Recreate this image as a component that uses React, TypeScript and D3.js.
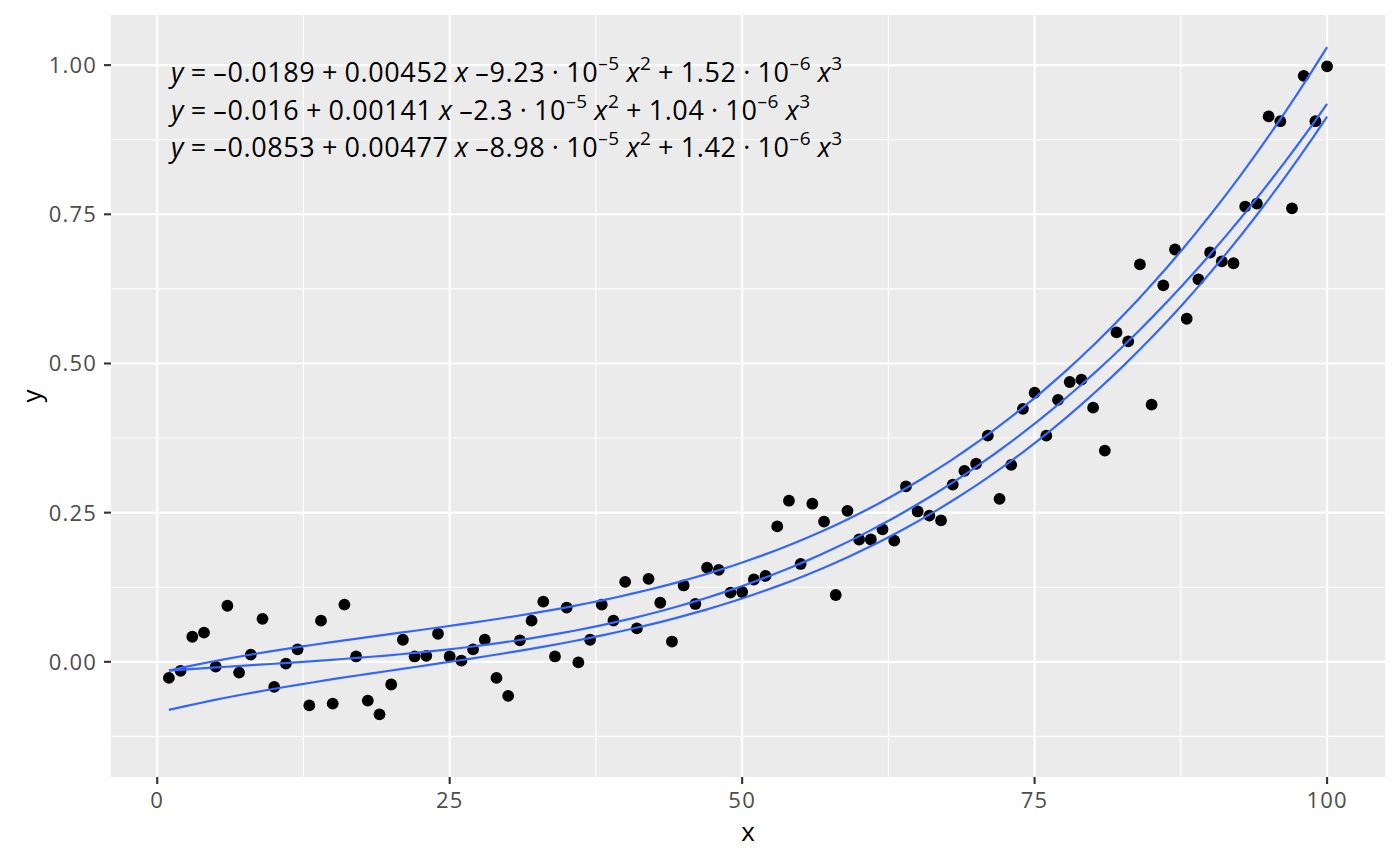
import React, { useEffect } from 'react';
import * as d3 from 'd3';

// observed points, x = 1..100
const xs = d3.range(1, 101);
const ys = [
  -0.027, -0.015, 0.042, 0.049, -0.008, 0.094, -0.018, 0.012, 0.072, -0.042,
  -0.003, 0.021, -0.073, 0.069, -0.070, 0.096, 0.009, -0.065, -0.088, -0.038,
  0.037, 0.009, 0.010, 0.047, 0.009, 0.002, 0.021, 0.037, -0.027, -0.057,
  0.036, 0.069, 0.101, 0.009, 0.091, -0.001, 0.037, 0.096, 0.069, 0.134,
  0.056, 0.139, 0.099, 0.034, 0.128, 0.097, 0.158, 0.154, 0.116, 0.117,
  0.138, 0.144, 0.227, 0.270, 0.164, 0.265, 0.235, 0.112, 0.253, 0.205,
  0.205, 0.222, 0.203, 0.294, 0.252, 0.245, 0.237, 0.297, 0.320, 0.332,
  0.379, 0.273, 0.330, 0.424, 0.451, 0.379, 0.439, 0.469, 0.473, 0.426,
  0.354, 0.552, 0.537, 0.666, 0.431, 0.631, 0.691, 0.575, 0.641, 0.686,
  0.671, 0.668, 0.763, 0.768, 0.914, 0.906, 0.760, 0.982, 0.906, 0.998,
];

// fitted cubic coefficients (intercept, x, x^2, x^3) as printed on the chart
const fitCoefs = [
  [-0.0189, 0.00452, -9.23e-5, 1.52e-6],
  [-0.016, 0.00141, -2.3e-5, 1.04e-6],
  [-0.0853, 0.00477, -8.98e-5, 1.42e-6],
];
const fitLabels = [
  ['–0.0189', '0.00452', '–9.23', '–5', '1.52', '–6'],
  ['–0.016', '0.00141', '–2.3', '–5', '1.04', '–6'],
  ['–0.0853', '0.00477', '–8.98', '–5', '1.42', '–6'],
];

const xTicks = [0, 25, 50, 75, 100];
const yTicks = [0, 0.25, 0.5, 0.75, 1];
const xMinor = [12.5, 37.5, 62.5, 87.5];
const yMinor = [-0.125, 0.125, 0.375, 0.625, 0.875];

const W = 1400;
const H = 866;
const M = { left: 111, right: 15, top: 15, bottom: 89 };
const FONT = '"Open Sans", "Noto Sans", sans-serif';

export default function App() {
  useEffect(() => {
    document.body.style.margin = '0';
  }, []);

  const x = d3.scaleLinear().domain([-3.95, 104.95]).range([M.left, W - M.right]);
  const y = d3.scaleLinear().domain([-0.193, 1.084]).range([H - M.bottom, M.top]);

  const grid = d3.range(1, 100.01, 99 / 80);
  const poly = (c: number[], v: number) => c[0] + c[1] * v + c[2] * v * v + c[3] * v * v * v;
  const curve = (c: number[]) =>
    d3
      .line<number>()
      .x((v) => x(v))
      .y((v) => y(poly(c, v)))(grid) as string;

  const x0 = M.left, x1 = W - M.right, y0 = M.top, y1 = H - M.bottom;
  const sup = 19;
  const up = -12;

  return (
    <svg width={W} height={H} style={{ display: 'block', fontFamily: FONT }}>
      <rect width={W} height={H} fill="#fff" />
      <rect x={x0} y={y0} width={x1 - x0} height={y1 - y0} fill="#EBEBEB" />
      {xMinor.map((t) => (
        <line key={'xm' + t} x1={x(t)} x2={x(t)} y1={y0} y2={y1} stroke="#fff" strokeWidth={1.1} />
      ))}
      {yMinor.map((t) => (
        <line key={'ym' + t} x1={x0} x2={x1} y1={y(t)} y2={y(t)} stroke="#fff" strokeWidth={1.1} />
      ))}
      {xTicks.map((t) => (
        <line key={'xg' + t} x1={x(t)} x2={x(t)} y1={y0} y2={y1} stroke="#fff" strokeWidth={2.1} />
      ))}
      {yTicks.map((t) => (
        <line key={'yg' + t} x1={x0} x2={x1} y1={y(t)} y2={y(t)} stroke="#fff" strokeWidth={2.1} />
      ))}

      {xs.map((v, i) => (
        <circle key={'p' + v} cx={x(v)} cy={y(ys[i])} r={5.9} fill="#000" />
      ))}

      {fitCoefs.map((c, i) => (
        <path key={'f' + i} d={curve(c)} fill="none" stroke="#3366FF" strokeWidth={2.2} />
      ))}

      {fitLabels.map((p, i) => (
        <text
          key={'eq' + i}
          x={171}
          y={82 + i * 37.5}
          fontSize={27}
          letterSpacing={0.6}
          wordSpacing={-1}
          fill="#000"
        >
          <tspan fontStyle="italic">y</tspan>
          <tspan> = {p[0]} + {p[1]} </tspan>
          <tspan fontStyle="italic">x</tspan>
          <tspan> {p[2]} · 10</tspan>
          <tspan fontSize={sup} dy={up}>{p[3]}</tspan>
          <tspan dy={-up}> </tspan>
          <tspan fontStyle="italic">x</tspan>
          <tspan fontSize={sup} dy={up}>2</tspan>
          <tspan dy={-up}> + {p[4]} · 10</tspan>
          <tspan fontSize={sup} dy={up}>{p[5]}</tspan>
          <tspan dy={-up}> </tspan>
          <tspan fontStyle="italic">x</tspan>
          <tspan fontSize={sup} dy={up}>3</tspan>
        </text>
      ))}

      {xTicks.map((t) => (
        <g key={'xt' + t}>
          <line x1={x(t)} x2={x(t)} y1={y1} y2={y1 + 7} stroke="#333" strokeWidth={2.1} />
          <text x={x(t)} y={808} textAnchor="middle" fontSize={22} letterSpacing={1.2} fill="#4D4D4D">
            {t}
          </text>
        </g>
      ))}
      {yTicks.map((t) => (
        <g key={'yt' + t}>
          <line x1={x0 - 7} x2={x0} y1={y(t)} y2={y(t)} stroke="#333" strokeWidth={2.1} />
          <text
            x={x0 - 14}
            y={y(t)}
            dy="0.36em"
            textAnchor="end"
            fontSize={22}
            letterSpacing={1.2}
            fill="#4D4D4D"
          >
            {d3.format('.2f')(t)}
          </text>
        </g>
      ))}

      <text x={(x0 + x1) / 2} y={841} textAnchor="middle" fontSize={26} fill="#000">
        x
      </text>
      <text transform={`translate(41,${(y0 + y1) / 2}) rotate(-90)`} textAnchor="middle" fontSize={26} fill="#000">
        y
      </text>
    </svg>
  );
}
